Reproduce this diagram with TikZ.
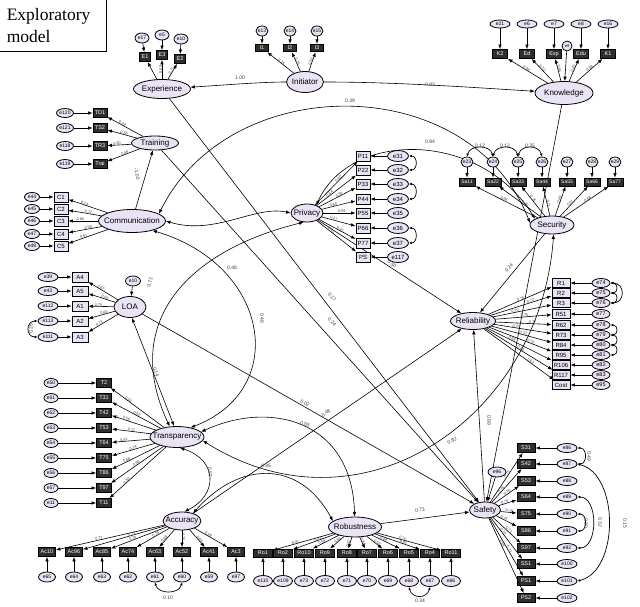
\documentclass[tikz,border=0pt]{standalone}
\usepackage{fontspec}
\setmainfont{Liberation Sans}
\newfontfamily\titlefont{Liberation Serif}
\usetikzlibrary{shapes.geometric,arrows.meta}
\definecolor{lav}{RGB}{234,227,245}
\definecolor{lblc}{RGB}{60,60,95}
\pgfdeclarelayer{back}
\pgfdeclarelayer{bg}
\pgfsetlayers{back,bg,main}
\begin{document}
\begin{tikzpicture}[x=1pt,y=-1pt,
  lat/.style={ellipse,draw,line width=0.8pt,fill=lav,inner xsep=-6pt,inner ysep=-2pt,font=\fontsize{8}{8}\selectfont},
  obs/.style={rectangle,draw,line width=0.9pt,fill=lav,inner sep=0pt,minimum width=15pt,minimum height=8.5pt,font=\fontsize{5.5}{6}\selectfont},
  dobs/.style={obs,fill=black!82,text=white},
  err/.style={ellipse,draw,line width=0.8pt,fill=lav,inner sep=0pt,minimum width=17pt,minimum height=9pt,font=\fontsize{5}{5}\selectfont},
  pth/.style={-{Latex[length=4.5pt,width=3.5pt]},line width=0.6pt},
  cov/.style={{Latex[length=4.5pt,width=3.5pt]}-{Latex[length=4.5pt,width=3.5pt]},line width=0.6pt},
  covs/.style={{Latex[length=3pt,width=2.6pt]}-{Latex[length=3pt,width=2.6pt]},line width=0.7pt},
  lbl/.style={font=\fontsize{3.8}{4}\selectfont,text=lblc,inner sep=0.2pt},
  slbl/.style={font=\fontsize{5}{5}\selectfont,text=lblc,inner sep=0.3pt},
]
\useasboundingbox (0,0) rectangle (640,607);
\begin{pgfonlayer}{back}
\fill[white] (0,0) rectangle (640,607);
\end{pgfonlayer}

% title
\node[draw,line width=0.6pt,anchor=north west,minimum width=107pt,minimum height=52pt,text width=92pt,inner xsep=7pt,align=left,font=\titlefont\fontsize{17.5}{22}\selectfont] (title) at (-1,-1) {Exploratory\\model};

% latent variables
\node[lat,minimum width=57pt,minimum height=19pt] (exp) at (162,89) {Experience};
\node[lat,minimum width=37pt,minimum height=21pt] (ini) at (305,82) {Initiator};
\node[lat,minimum width=58pt,minimum height=23pt] (kno) at (564,93) {Knowledge};
\node[lat,minimum width=47pt,minimum height=14pt] (trn) at (155,143) {Training};
\node[lat,minimum width=67pt,minimum height=23pt] (com) at (132,221) {Communication};
\node[lat,minimum width=32pt,minimum height=18pt] (pri) at (307,213) {Privacy};
\node[lat,minimum width=44pt,minimum height=18pt] (sec) at (552,225) {Security};
\node[lat,minimum width=32pt,minimum height=21pt] (loa) at (130,307) {LOA};
\node[lat,minimum width=45pt,minimum height=17pt] (rel) at (473,321) {Reliability};
\node[lat,minimum width=54pt,minimum height=21pt] (tra) at (177,437) {Transparency};
\node[lat,minimum width=38pt,minimum height=18pt] (acc) at (182,521) {Accuracy};
\node[lat,minimum width=53pt,minimum height=20pt] (rob) at (355,527) {Robustness};
\node[lat,minimum width=31pt,minimum height=16pt] (saf) at (485,510) {Safety};

% Experience
\foreach \i/\bx/\by/\ebx/\ey/\tx/\ee/\lo in {1/145/57/142/38/E1/e17/, 2/162/55/162/35/E3/e5/0.69, 3/180/59/181/39/E2/e10/0.71}{
  \node[dobs,minimum width=11pt,minimum height=9pt] (xb\i) at (\bx,\by) {\tx};
  \node[err,minimum width=14pt,minimum height=10pt] (xe\i) at (\ebx,\ey) {\ee};
  \draw[pth] (xe\i) -- (xb\i);
  \draw[pth] (exp) -- node[lbl,sloped,pos=0.5,above=-0.3pt]{\lo} (xb\i);
}
% Initiator
\foreach \i/\bx/\tx/\ee/\lo in {1/262/I1/e13/0.74, 2/290/I2/e14/0.76, 3/317/I3/e15/0.52}{
  \node[dobs,minimum width=13pt,minimum height=7.5pt] (ib\i) at (\bx,48) {\tx};
  \node[err,minimum width=12pt,minimum height=10pt] (ie\i) at (\bx,31) {\ee};
  \draw[pth] (ie\i) -- (ib\i);
  \draw[pth] (ini) -- node[lbl,sloped,pos=0.5,above=-0.3pt]{\lo} (ib\i);
}
% Knowledge
\foreach \i/\bx/\tx/\ee/\lo in {1/500/K2/e21/0.94, 2/527/Ed/e6/0.22, 3/554/Exp/e7/0.86, 4/581/Edu/e8/0.45, 5/608/K1/e16/0.59}{
  \node[dobs,minimum width=15pt,minimum height=9pt] (kb\i) at (\bx,54) {\tx};
  \node[err,minimum width=20pt,minimum height=8pt] (ke\i) at (\bx,24) {\ee};
  \draw[pth] (ke\i) -- (kb\i);
  \draw[pth] (kno) -- node[lbl,sloped,pos=0.55,above=-0.3pt]{\lo} (kb\i);
}
\node[err,minimum width=10pt,minimum height=10pt,font=\fontsize{4}{4}\selectfont] (kd) at (567,46) {e9};
\draw[pth] (kd) -- (kno);
% Training
\foreach \i/\by/\tx/\ee/\lo in {1/113/TD1/e120/0.42, 2/128/TS2/e121/0.56, 3/146/TR3/e118/0.60, 4/164/Trai/e119/0.58}{
  \pgfmathsetmacro\pp{0.45+0.15*mod(\i,2)}
  \node[dobs,minimum width=14pt,minimum height=9pt] (tb\i) at (100,\by) {\tx};
  \node[err,minimum width=17pt,minimum height=9pt] (te\i) at (65,\by) {\ee};
  \draw[pth] (te\i) -- (tb\i);
  \draw[pth] (trn) -- node[lbl,sloped,pos=\pp,above=-0.3pt]{\lo} (tb\i);
}
% Communication
\foreach \i/\by/\ee/\lo in {1/197/e44/0.74, 2/209/e45/0.72, 3/221/e46/0.66, 4/234/e47/0.58, 5/246/e48/0.61}{
  \pgfmathsetmacro\pp{0.4+0.2*mod(\i,2)}
  \node[obs,minimum width=14pt,minimum height=10pt,font=\fontsize{6}{6}\selectfont] (cb\i) at (61,\by) {C\i};
  \node[err,minimum width=15pt,minimum height=9pt] (ce\i) at (32,\by) {\ee};
  \draw[pth] (ce\i) -- (cb\i);
  \draw[pth] (com) -- node[lbl,sloped,pos=\pp,above=-0.3pt]{\lo} (cb\i);
}
% Privacy
\foreach \i/\by/\tx/\ee/\lo in {1/156/P11/e31/0.60, 2/170/P22/e32/0.64, 3/184/P33/e33/0.62, 4/199/P44/e34/0.63, 5/213/P55/e35/0.59, 6/228/P66/e36/0.67, 7/243/P77/e37/0.61, 8/257/PS/e117/0.40}{
  \pgfmathsetmacro\pp{0.35+0.22*mod(\i,2)}
  \node[obs,minimum width=14pt,minimum height=10pt,font=\fontsize{6}{6}\selectfont] (pb\i) at (363,\by) {\tx};
  \node[err,minimum width=21pt,minimum height=11pt,font=\fontsize{6}{6}\selectfont] (pe\i) at (398,\by) {\ee};
  \draw[pth] (pe\i) -- (pb\i);
  \draw[pth] (pri) -- node[lbl,sloped,pos=\pp,above=-0.3pt]{\lo} (pb\i);
}
\draw[covs] (pe1.east) .. controls +(9,0) and +(9,0) .. (pe2.east);
\draw[covs] (pe3.east) .. controls +(9,0) and +(9,0) .. (pe4.east);
\draw[covs] (pe6.east) .. controls +(9,0) and +(9,0) .. (pe7.east);
% Security
\foreach \i/\bx/\lo in {1/467/0.66, 2/493/0.70, 3/518/0.76, 4/542/0.71, 5/567/0.69, 6/592/0.57, 7/615/0.68}{
  \pgfmathtruncatemacro\kk{\i+22}
  \pgfmathsetmacro\pp{0.4+0.15*mod(\i,2)}
  \node[dobs,minimum width=16pt,minimum height=8pt,font=\fontsize{5}{5}\selectfont] (sb\i) at (\bx,182) {Sa\i\i};
  \node[err,minimum width=12pt,minimum height=10pt] (se\i) at (\bx,162) {e\kk};
  \draw[pth] (se\i) -- (sb\i);
  \draw[pth] (sec) -- node[lbl,sloped,pos=\pp,above=-0.3pt]{\lo} (sb\i);
}
\draw[covs] (se1.north) .. controls +(3,-12) and +(-3,-12) .. (se2.north);
\draw[covs] (se2.north) .. controls +(3,-12) and +(-3,-12) .. (se3.north);
\draw[covs] (se3.north) .. controls +(3,-12) and +(-3,-12) .. (se4.north);
\node[slbl] (ls1) at (480,146) {0.12};
\node[slbl] (ls2) at (505,146) {0.12};
\node[slbl] (ls3) at (530,146) {0.35};
% LOA
\foreach \i/\by/\tx/\ee/\lo in {1/277/A4/e39/0.67, 2/291/A5/e43/0.66, 3/306/A1/e112/0.75, 4/321/A2/e113/0.80, 5/337/A3/e111/0.71}{
  \pgfmathsetmacro\pp{0.4+0.2*mod(\i,2)}
  \node[obs,minimum width=16pt,minimum height=10pt,font=\fontsize{6}{6}\selectfont] (ab\i) at (80,\by) {\tx};
  \node[err,minimum width=20pt,minimum height=9pt] (ae\i) at (48,\by) {\ee};
  \draw[pth] (ae\i) -- (ab\i);
  \draw[pth] (loa) -- node[lbl,sloped,pos=\pp,above=-0.3pt]{\lo} (ab\i);
}
\node[err,minimum width=15pt,minimum height=10pt] (ld) at (133,281) {e10};
\draw[pth] (ld) -- (loa);
\draw[covs] (ae4.west) .. controls +(-12,0) and +(-12,0) .. (ae5.west);
\node[slbl,rotate=90] (la1) at (31,329) {0.26};
% Reliability
\foreach \i/\by/\tx/\ee/\lo in {1/283/R1/e74/0.76, 2/293/R2/e75/0.72, 3/303/R3/e76/0.70, 4/314/R51/e77/0.75, 5/325/R62/e78/0.77, 6/335/R73/e79/0.74, 7/345/R84/e80/0.72, 8/355/R95/e81/0.70, 9/365/R106/e82/0.68, 10/375/R117/e83/0.65, 11/385/Cost/e95/0.62}{
  \pgfmathsetmacro\pp{0.38+0.14*mod(\i,3)}
  \node[obs,minimum width=18pt,minimum height=9.5pt,font=\fontsize{6}{6}\selectfont] (rb\i) at (561,\by) {\tx};
  \node[err,minimum width=18pt,minimum height=9pt,font=\fontsize{5.5}{6}\selectfont] (re\i) at (601,\by) {\ee};
  \draw[pth] (re\i) -- (rb\i);
  \draw[pth] (rel) -- node[lbl,sloped,pos=\pp,above=-0.3pt]{\lo} (rb\i);
}
\draw[covs] (re1.east) .. controls +(8,0) and +(8,0) .. (re2.east);
\draw[covs] (re2.east) .. controls +(8,0) and +(8,0) .. (re3.east);
\draw[covs] (re1.east) .. controls +(15,0) and +(15,0) .. (re3.east);
\draw[covs] (re5.east) .. controls +(8,0) and +(8,0) .. (re6.east);
\draw[covs] (re6.east) .. controls +(8,0) and +(8,0) .. (re7.east);
\draw[covs] (re7.east) .. controls +(8,0) and +(8,0) .. (re8.east);
% Transparency
\foreach \i/\by/\tx/\ee/\lo in {1/383/T2/e50/0.52, 2/398/T31/e51/0.52, 3/413/T42/e52/0.56, 4/428/T53/e53/0.71, 5/443/T64/e54/0.81, 6/458/T75/e55/0.74, 7/473/T86/e56/0.68, 8/488/T97/e57/0.66, 9/503/T11/e11/0.62}{
  \pgfmathsetmacro\pp{0.5+0.18*mod(\i,2)}
  \node[dobs,minimum width=15pt,minimum height=9pt] (nb\i) at (104,\by) {\tx};
  \node[err,minimum width=14pt,minimum height=9pt] (ne\i) at (51,\by) {\ee};
  \draw[pth] (ne\i) -- (nb\i);
  \draw[pth] (tra) -- node[lbl,sloped,pos=\pp,above=-0.3pt]{\lo} (nb\i);
}
% Accuracy
\foreach \i/\bx/\tx/\ee/\lo in {1/47/Ac10/e65/0.77, 2/74/Ac96/e64/0.72, 3/102/Ac85/e63/0.70, 4/128/Ac74/e62/0.76, 5/155/Ac63/e61/0.68, 6/182/Ac52/e60/0.70, 7/209/Ac41/e59/0.68, 8/236/Ac3/e97/0.69}{
  \pgfmathsetmacro\pp{0.4+0.2*mod(\i,2)}
  \node[dobs,minimum width=17pt,minimum height=9pt] (qb\i) at (\bx,552) {\tx};
  \node[err,minimum width=17pt,minimum height=10pt] (qe\i) at (\bx,577) {\ee};
  \draw[pth] (qe\i) -- (qb\i);
  \draw[pth] (acc) -- node[lbl,sloped,pos=\pp,above=-0.3pt]{\lo} (qb\i);
}
\draw[covs] (qe5.south) .. controls +(3,12) and +(-3,12) .. (qe6.south);
\node[slbl] (lq1) at (168,598) {0.10};
% Robustness
\foreach \i/\bx/\tx/\ee/\lo in {1/263/Ro1/e110/0.41, 2/283/Ro2/e109/0.41, 3/304/Ro10/e73/0.58, 4/325/Ro9/e72/0.66, 5/347/Ro8/e71/0.62, 6/367/Ro7/e70/0.64, 7/388/Ro6/e69/0.62, 8/409/Ro5/e68/0.68, 9/430/Ro4/e67/0.81, 10/451/Ro11/e66/0.70}{
  \pgfmathsetmacro\pp{0.4+0.22*mod(\i,2)}
  \node[dobs,minimum width=19pt,minimum height=8pt] (ob\i) at (\bx,553) {\tx};
  \node[err,minimum width=19pt,minimum height=11pt] (oe\i) at (\bx,581) {\ee};
  \draw[pth] (oe\i) -- (ob\i);
  \draw[pth] (rob) -- node[lbl,sloped,pos=\pp,above=-0.3pt]{\lo} (ob\i);
}
\draw[covs] (oe8.south) .. controls +(3,12) and +(-3,12) .. (oe9.south);
\node[slbl] (lo1) at (420,601) {0.34};
% Safety
\foreach \i/\by/\tx/\ee/\lo in {1/448/S31/e86/0.75, 2/464/S42/e87/0.76, 3/481/S53/e88/0.76, 4/497/S64/e89/0.78, 5/514/S75/e90/0.78, 6/531/S86/e91/0.73, 7/548/S97/e92/0.71, 8/564/SS1/e100/0.70, 9/581/PS1/e101/0.71, 10/598/PS2/e102/0.69}{
  \pgfmathsetmacro\pp{0.35+0.2*mod(\i,2)}
  \node[dobs,minimum width=18pt,minimum height=9pt] (yb\i) at (526,\by) {\tx};
  \node[err,minimum width=20pt,minimum height=9pt] (ye\i) at (567,\by) {\ee};
  \draw[pth] (ye\i) -- (yb\i);
  \draw[pth] (saf) -- node[lbl,sloped,pos=\pp,above=-0.3pt]{\lo} (yb\i);
}
\node[err,minimum width=18pt,minimum height=10pt] (sd) at (497,472) {e96};
\draw[pth] (sd) -- (saf);
\draw[covs] (ye1.east) .. controls +(10,0) and +(10,0) .. (ye2.east);
\draw[covs] (ye5.east) .. controls +(10,0) and +(10,0) .. (ye6.east);
\draw[covs] (ye4.east) .. controls +(21,0) and +(21,0) .. (ye7.east);
\draw[covs] (ye2.east) .. controls +(42,10) and +(42,-10) .. (ye9.east);
\node[slbl,rotate=-90] (ly1) at (589,456) {0.49};
\node[slbl,rotate=-90] (ly2) at (586,523) {0.30};
\node[slbl,rotate=-90] (ly3) at (600,522) {0.32};
\node[slbl,rotate=-90] (ly4) at (625,523) {0.15};

% structural paths and covariances
\begin{pgfonlayer}{bg}
\draw[pth] (ini) .. controls (262,82) and (225,85) .. (exp);
\draw[pth] (ini) .. controls (400,82) and (480,88) .. (kno);
\draw[pth] (com) -- (trn);
\draw[pth] (exp) -- (saf);
\draw[pth] (trn) -- (saf);
\draw[pth] (loa) -- (saf);
\draw[pth] (kno) -- (saf);
\draw[pth] (rob) -- (saf);
\draw[pth] (saf) -- (rel);
\draw[pth] (sec) -- (rel);
\draw[pth] (pri) -- (rel);
\draw[pth] (acc) -- (rel);
\draw[cov] (loa.-80) -- (tra.105);
\draw[cov] (com.15) .. controls (230,70) and (470,70) .. (sec.175);
\draw[cov] (pri.40) .. controls (350,130) and (480,130) .. (sec.160);
\draw[cov] (com.east) .. controls (215,236) and (255,205) .. (pri.west);
\draw[cov] (tra.125) .. controls (120,320) and (190,250) .. (pri.250);
\draw[cov] (com.-25) .. controls (270,265) and (290,390) .. (tra.35);
\draw[cov] (tra.12) .. controls (270,400) and (352,420) .. (rob.92);
\draw[cov] (tra.-8) .. controls (360,540) and (540,420) .. (sec.-80);
\draw[cov] (tra.-75) .. controls (218,460) and (218,495) .. (acc.75);
\draw[cov] (acc.35) .. controls (240,460) and (300,460) .. (rob.165);
\end{pgfonlayer}

% structural labels
\node[slbl] (l01) at (240,78) {1.00};
\node[slbl] (l02) at (430,85) {0.82};
\node[slbl] (l03) at (350,101) {0.39};
\node[slbl] (l04) at (430,142) {0.84};
\node[slbl,rotate=-80] (l05) at (137,174) {-1.00};
\node[slbl,rotate=-52] (l06) at (332,297) {0.17};
\node[slbl,rotate=-48] (l07) at (332,322) {0.24};
\node[slbl] (l08) at (232,268) {0.48};
\node[slbl,rotate=-90] (l09) at (262,318) {0.46};
\node[slbl,rotate=75] (l10) at (150,282) {0.71};
\node[slbl,rotate=-70] (l11) at (156,372) {0.14};
\node[slbl,rotate=-30] (l12) at (305,403) {0.02};
\node[slbl,rotate=35] (l13) at (326,413) {0.48};
\node[slbl,rotate=-15] (l14) at (305,424) {0.55};
\node[slbl,rotate=-5] (l15) at (266,466) {0.95};
\node[slbl,rotate=-85] (l16) at (210,472) {0.07};
\node[slbl,rotate=25] (l17) at (452,441) {0.82};
\node[slbl,rotate=5] (l18) at (420,510) {0.73};
\node[slbl,rotate=50] (l19) at (509,268) {0.24};
\node[slbl,rotate=-90] (l20) at (489,420) {0.89};
\node[slbl,rotate=-35] (l21) at (392,264) {0.50};
\end{tikzpicture}
\end{document}
